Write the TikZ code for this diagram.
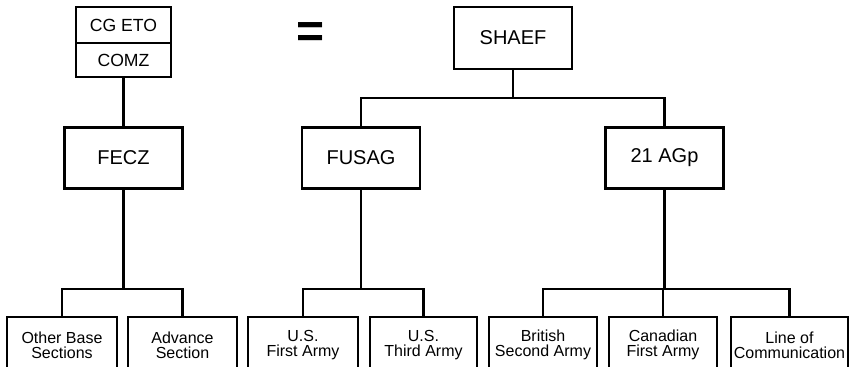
\documentclass[tikz,border=0pt]{standalone}
\usepackage{fontspec}
\setsansfont{Liberation Sans}
\usetikzlibrary{positioning}

\begin{document}
\begin{tikzpicture}[
        x=0.5pt, y=-0.5pt,
        box/.style = {draw, rectangle, line width=1.4pt, align=center, inner sep=0pt, font=\sffamily\fontsize{10}{12}\selectfont},
        command/.style = {box, minimum width=59pt, minimum height=30.5pt},
        head/.style = {box, minimum width=47.5pt, font=\sffamily\fontsize{8.8}{10}\selectfont},
        unit/.style = {box, minimum height=28pt, font=\sffamily\fontsize{8}{7.5}\selectfont},
        link/.style = {draw, line width=1.4pt}
    ]

    \useasboundingbox (0,0) rectangle (852,366);
    \begin{scope}
        \clip (0,0) rectangle (852,366);

        % Left chain
        \node (cg) [head, minimum height=18pt] at (123.5,25) {CG ETO};
        \node (comz) [head, minimum height=17pt] at (123.5,60) {COMZ};
        \node (fecz) [command] at (123.5,158) {FECZ};

        % Equals
        \node (eq) at (311,35) {\sffamily\bfseries\fontsize{24}{24}\selectfont =};

        % Right chain
        \node (shaef) [command, minimum height=31pt] at (513,38) {SHAEF};
        \node (fusag) [command] at (361,158) {FUSAG};
        \node (agp) [command] at (664.5,158) {21 AGp};

        % Bottom row
        \node (obs) [unit, minimum width=55pt] at (62,345) {Other Base\\Sections};
        \node (adv) [unit, minimum width=54.5pt] at (182.5,345) {Advance\\Section};
        \node (usf) [unit, minimum width=55pt] at (303,345) {U.S.\\First Army};
        \node (ust) [unit, minimum width=53.5pt] at (423.5,345) {U.S.\\Third Army};
        \node (brit) [unit, minimum width=54pt] at (543,345) {British\\Second Army};
        \node (can) [unit, minimum width=54pt] at (663,345) {Canadian\\First Army};
        \node (loc) [unit, minimum width=58.5pt] at (789.5,345) {Line of\\Communication};

        % Buses
        \coordinate (topbus) at (513,98);
        \coordinate (lbus) at (123.5,289);
        \coordinate (mbus) at (361,289);
        \coordinate (rbus) at (664.5,289);

        % Links
        \draw [link] (comz) -- (fecz);
        \draw [link] (fecz) -- (lbus);
        \draw [link] (obs) |- (lbus) -| (adv);

        \draw [link] (shaef) -- (topbus);
        \draw [link] (fusag) |- (topbus) -| (agp);

        \draw [link] (fusag) -- (mbus);
        \draw [link] (usf) |- (mbus) -| (ust);

        \draw [link] (agp) -- (rbus);
        \draw [link] (brit) |- (rbus) -| (loc);
        \draw [link] (can) -- (can |- rbus);
    \end{scope}

\end{tikzpicture}
\end{document}
